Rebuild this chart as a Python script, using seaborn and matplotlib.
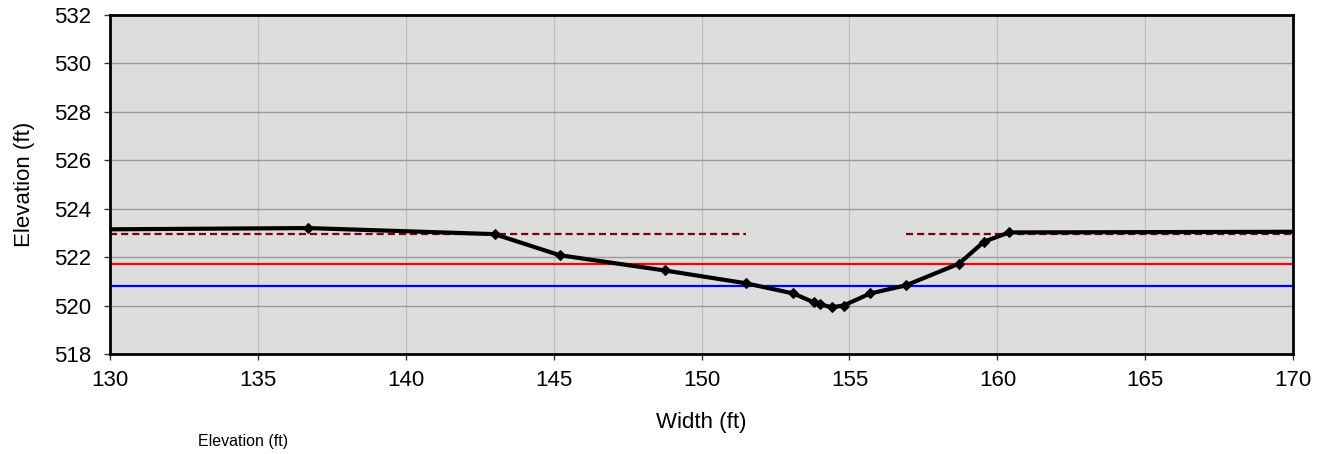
import matplotlib
matplotlib.use("Agg")
import matplotlib.pyplot as plt
import seaborn as sns
import pandas as pd

# Cross-section survey: station (ft) and ground elevation (ft)
station = [125.0, 136.7, 143.0, 145.2, 148.75, 151.5, 153.1, 153.8, 154.0,
           154.4, 154.8, 155.7, 156.9, 158.7, 159.55, 160.4, 175.0]
elevation = [523.11, 523.2, 522.95, 522.08, 521.45, 520.92, 520.5, 520.13, 520.05,
             519.93, 520.0, 520.5, 520.83, 521.73, 522.64, 523.02, 523.06]

# Reference water surfaces (ft)
bankfull_elev = 522.96
bankfull_left = [130.0, 151.5]
bankfull_right = [156.9, 170.0]
red_level = 521.72
blue_level = 520.82

x_ticks = [130, 135, 140, 145, 150, 155, 160, 165, 170]
y_ticks = [518, 520, 522, 524, 526, 528, 530, 532]

sns.set_theme(style="white", rc={"text.color": "black", "axes.labelcolor": "black",
                                 "xtick.color": "black", "ytick.color": "black"})
plt.rcParams["font.family"] = ["Liberation Sans", "DejaVu Sans"]

fig = plt.figure(figsize=(13.25, 4.54), dpi=100)
ax = fig.add_axes([0.083, 0.2203, 0.893, 0.7467])
ax.set_facecolor("#dddddd")

# grid: lighter vertical, darker horizontal
for xv in x_ticks[1:-1]:
    ax.axvline(xv, color="#bdbdbd", lw=0.9, zorder=0)
for yv in y_ticks[1:-1]:
    ax.axhline(yv, color="#9a9a9a", lw=1.0, zorder=0)

ax.hlines(bankfull_elev, bankfull_left[0], bankfull_left[1], colors="#800000",
          linestyles=(0, (3.2, 1.8)), lw=1.6, zorder=2)
ax.hlines(bankfull_elev, bankfull_right[0], bankfull_right[1], colors="#800000",
          linestyles=(0, (3.2, 1.8)), lw=1.6, zorder=2)
ax.axhline(red_level, color="#ff0000", lw=1.6, zorder=2)
ax.axhline(blue_level, color="#0000ff", lw=1.6, zorder=2)

df = pd.DataFrame({"Width (ft)": station, "Elevation (ft)": elevation})
sns.lineplot(data=df, x="Width (ft)", y="Elevation (ft)", ax=ax, color="black",
             lw=3.0, marker="D", markersize=5, markeredgecolor="black",
             sort=False, zorder=3)

ax.set_xlim(130, 170)
ax.set_ylim(518, 532)
ax.set_xticks(x_ticks)
ax.set_yticks(y_ticks)
ax.tick_params(axis="both", labelsize=16, length=4.3, width=1, color="#333333",
               labelcolor="black", direction="out", bottom=True, left=True)
ax.tick_params(axis="x", pad=7)
ax.tick_params(axis="y", pad=9)
for s in ax.spines.values():
    s.set_color("black")
    s.set_linewidth(2)

ax.set_xlabel("Width (ft)", fontsize=16, labelpad=15, color="black")
ax.set_ylabel("Elevation (ft)", fontsize=16, labelpad=14, color="black")

fig.text(198 / 1325, 1 - 446 / 454, "Elevation (ft)", fontsize=11.5,
         ha="left", va="baseline", color="black")

fig.savefig("out.png", dpi=100)
